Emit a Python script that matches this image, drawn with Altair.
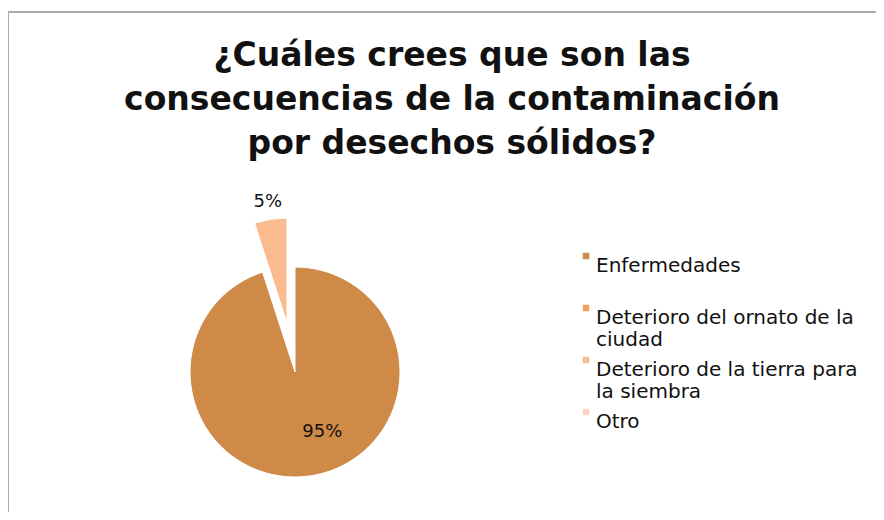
import altair as alt
import pandas as pd

# ---- data ----
categories = [
    "Enfermedades",
    "Deterioro del ornato de la ciudad",
    "Deterioro de la tierra para la siembra",
    "Otro",
]
values = [95, 0, 5, 0]
pct_labels = ["95%", "", "5%", ""]
colors = ["#CE8A46", "#F2A25A", "#F9BB8F", "#FCD5C4"]
legend_lines = [
    ["Enfermedades", ""],
    ["Deterioro del ornato de la", "ciudad"],
    ["Deterioro de la tierra para", "la siembra"],
    ["Otro"],
]
title_lines = [
    "¿Cuáles crees que son las",
    "consecuencias de la contaminación",
    "por desechos sólidos?",
]
exploded = "Deterioro de la tierra para la siembra"

df = pd.DataFrame({
    "idx": list(range(len(categories))),
    "category": categories,
    "value": values,
    "label": pct_labels,
})

# label expression for wrapped legend labels
parts = []
for c, lines in zip(categories, legend_lines):
    arr = "[" + ",".join("'" + l + "'" for l in lines) + "]"
    parts.append(f"datum.label == '{c}' ? {arr}")
label_expr = " : ".join(parts) + " : datum.label"

FONT = "DejaVu Sans"
CX, CY = 287, 204
R = 105
EX_DX, EX_DY = -8, -49

color = alt.Color(
    "category:N",
    scale=alt.Scale(domain=categories, range=colors),
    sort=categories,
    legend=alt.Legend(
        title=None,
        orient="none",
        legendX=568,
        legendY=78,
        symbolType="square",
        symbolSize=42,
        symbolStrokeWidth=0,
        labelFont=FONT,
        labelFontSize=20,
        labelColor="#111111",
        labelBaseline="top",
        labelOffset=0,
        labelLimit=400,
        rowPadding=0,
        padding=0,
        labelExpr=label_expr,
    ),
)

base = (
    alt.Chart(df)
    .transform_window(cum="sum(value)", sort=[alt.SortField("idx")])
    .transform_calculate(start="datum.cum - datum.value", mid="datum.cum - datum.value/2")
)

theta = alt.Theta("start:Q", scale=alt.Scale(domain=[0, 100]))
theta_mid = alt.Theta("mid:Q", scale=alt.Scale(domain=[0, 100]))

main = (
    base.transform_filter(f"datum.value > 0 && datum.category != '{exploded}'")
    .mark_arc(outerRadius=R, stroke="white", strokeWidth=1)
    .encode(theta=theta, theta2="cum:Q", color=color, x=alt.value(CX), y=alt.value(CY))
)

explode = (
    base.transform_filter(f"datum.category == '{exploded}'")
    .mark_arc(outerRadius=R, stroke="white", strokeWidth=1, xOffset=EX_DX, yOffset=EX_DY)
    .encode(theta=theta, theta2="cum:Q", color=color, x=alt.value(CX), y=alt.value(CY))
)

txt_main = (
    base.transform_filter(f"datum.value > 0 && datum.category != '{exploded}'")
    .mark_text(font=FONT, fontSize=18, color="#111111", dx=17, dy=-5)
    .encode(theta=theta_mid, radius=alt.value(66),
            text="label:N", x=alt.value(CX), y=alt.value(CY))
)

txt_ex = (
    base.transform_filter(f"datum.category == '{exploded}'")
    .mark_text(font=FONT, fontSize=18, color="#111111", dx=EX_DX, dy=EX_DY)
    .encode(theta=theta_mid, radius=alt.value(123),
            text="label:N", x=alt.value(CX), y=alt.value(CY))
)

frame_df = pd.DataFrame({"a": [0]})
title_txt = alt.Chart(frame_df).mark_text(
    text=title_lines,
    font=FONT,
    fontSize=33,
    fontWeight="bold",
    lineHeight=44,
    color="#111111",
    align="center",
    baseline="alphabetic",
).encode(x=alt.value(444), y=alt.value(-102))

top_rule = alt.Chart(frame_df).mark_rule(color="#ABABAB", strokeWidth=2).encode(
    x=alt.value(0), x2=alt.value(900), y=alt.value(-156)
)
left_rule = alt.Chart(frame_df).mark_rule(color="#ABABAB", strokeWidth=2).encode(
    x=alt.value(0), y=alt.value(-157), y2=alt.value(400)
)

chart = (
    alt.layer(top_rule, left_rule, title_txt, main, explode, txt_main, txt_ex)
    .properties(
        width=868,
        height=344,
        padding={"left": 0, "top": 160, "right": 0, "bottom": 0},
        autosize=alt.AutoSizeParams(type="none"),
    )
    .configure_view(stroke=None)
)

chart.save("out.html", embed_options={"renderer": "svg", "actions": False})
